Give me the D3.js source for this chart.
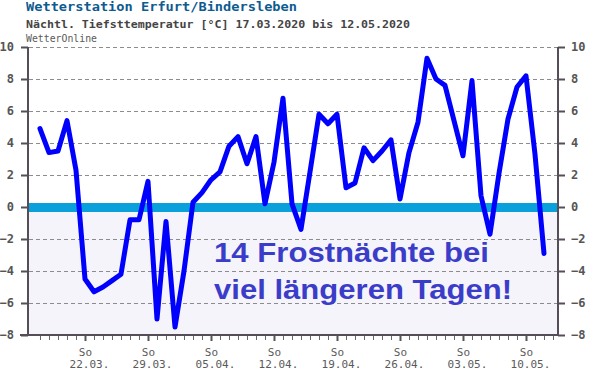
<!DOCTYPE html>
<html>
<head>
<meta charset="utf-8">
<script src="https://cdn.jsdelivr.net/npm/d3@7"></script>
<style>
  html, body { margin: 0; padding: 0; background: #fff; }
  svg { display: block; }
</style>
</head>
<body>
<svg id="chart"></svg>
<script>
// Nächtliche Tiefsttemperatur, ein Wert pro Nacht ab 17.03.2020
const startDay = "2020-03-17";
const temps = [4.9, 3.4, 3.5, 5.4, 2.3, -4.5, -5.3, -5.0, -4.6, -4.2,
  -0.8, -0.8, 1.6, -7.0, -0.9, -7.5, -4.0, 0.3, 0.9, 1.7,
  2.2, 3.8, 4.4, 2.7, 4.4, 0.2, 2.8, 6.8, 0.2, -1.4,
  2.2, 5.8, 5.2, 5.8, 1.2, 1.5, 3.7, 2.9, 3.5, 4.2,
  0.5, 3.4, 5.3, 9.3, 8.0, 7.6, 5.4, 3.2, 7.9, 0.7,
  -1.7, 2.1, 5.5, 7.5, 8.2, 3.3, -2.9];
const sundays = ["2020-03-22", "2020-03-29", "2020-04-05", "2020-04-12",
  "2020-04-19", "2020-04-26", "2020-05-03", "2020-05-10"];
const yTicks = [-8, -6, -4, -2, 0, 2, 4, 6, 8, 10];
const title = "Wetterstation Erfurt/Bindersleben";
const subtitle = "Nächtl. Tiefsttemperatur [°C] 17.03.2020 bis 12.05.2020";
const source = "WetterOnline";
const note = ["14 Frostnächte bei", "viel längeren Tagen!"];

const width = 590, height = 376;
const marginLeft = 28, marginRight = 32, marginTop = 47, marginBottom = 41;
const DAY = 864e5;

const parse = d3.utcParse("%Y-%m-%d");
const t0 = parse(startDay);
const data = temps.map((v, i) => ({ date: new Date(+t0 + i * DAY), value: v }));

const x = d3.scaleUtc()
  .domain([new Date(+t0 - 1.333 * DAY), new Date(+t0 + 57.556 * DAY)])
  .range([marginLeft, width - marginRight]);
const y = d3.scaleLinear()
  .domain([-8, 10])
  .range([height - marginBottom, marginTop]);

const svg = d3.select("#chart").attr("width", width).attr("height", height);
const mono = "'DejaVu Sans Mono', 'Liberation Mono', monospace";

// Hintergrund unter Null
svg.append("rect")
  .attr("x", marginLeft).attr("width", width - marginLeft - marginRight)
  .attr("y", y(0)).attr("height", y(-8) - y(0))
  .attr("fill", "#f5f4fb");

// Gitterlinien
svg.append("g")
  .selectAll("line")
  .data(yTicks.filter(d => d !== -8))
  .join("line")
  .attr("x1", marginLeft + 1).attr("x2", width - marginRight - 1)
  .attr("y1", d => Math.round(y(d)) + 0.5).attr("y2", d => Math.round(y(d)) + 0.5)
  .attr("stroke", "#8c8c8c").attr("stroke-width", 1)
  .attr("stroke-dasharray", "4,3");

// Null-Linie
svg.append("rect")
  .attr("x", marginLeft).attr("width", width - marginLeft - marginRight)
  .attr("y", y(0) - 4).attr("height", 9)
  .attr("fill", "#0aa0dc");

// Hinweistext
svg.append("g")
  .attr("font-family", "'Liberation Sans', Arial, sans-serif")
  .attr("font-weight", "bold")
  .attr("font-size", 27.5)
  .attr("fill", "#3b3dc9")
  .selectAll("text")
  .data(note)
  .join("text")
  .attr("x", 214)
  .attr("y", (d, i) => 262 + i * 37)
  .attr("textLength", (d, i) => i === 0 ? 275 : 298)
  .attr("lengthAdjust", "spacingAndGlyphs")
  .text(d => d);

// Achsen links / rechts
const axisColor = "#554e58";
function styleY(g) {
  g.select(".domain").remove();
  g.selectAll(".tick line").attr("stroke", axisColor).attr("stroke-width", 2);
  g.selectAll(".tick text")
    .attr("fill", "#555").attr("font-family", mono)
    .attr("font-weight", "bold").attr("font-size", 12);
}
svg.append("g")
  .attr("transform", `translate(${marginLeft},0)`)
  .call(d3.axisLeft(y).tickValues(yTicks).tickSize(7).tickPadding(7).tickFormat(d3.format("d")))
  .call(styleY);
svg.append("g")
  .attr("transform", `translate(${width - marginRight},0)`)
  .call(d3.axisRight(y).tickValues(yTicks).tickSize(7).tickPadding(6).tickFormat(d3.format("d")))
  .call(styleY);

svg.append("line")
  .attr("x1", marginLeft).attr("x2", marginLeft)
  .attr("y1", y(10)).attr("y2", y(-8) + 1)
  .attr("stroke", axisColor).attr("stroke-width", 2);
svg.append("line")
  .attr("x1", width - marginRight).attr("x2", width - marginRight)
  .attr("y1", y(10)).attr("y2", y(-8) + 1)
  .attr("stroke", axisColor).attr("stroke-width", 2);

// Zeitachse: Tagesstriche
const days = d3.range(0, 58).map(i => new Date(+t0 + i * DAY));
svg.append("g")
  .attr("transform", `translate(0,${y(-8)})`)
  .call(d3.axisBottom(x).tickValues(days).tickSize(5).tickFormat(""))
  .call(g => g.select(".domain").remove())
  .call(g => g.selectAll(".tick line").attr("stroke", "#666"));

svg.append("line")
  .attr("x1", marginLeft - 8).attr("x2", width - marginRight + 1)
  .attr("y1", y(-8)).attr("y2", y(-8))
  .attr("stroke", axisColor).attr("stroke-width", 2);

// Sonntage
const fmt = d3.utcFormat("%d.%m.");
const sunAxis = svg.append("g")
  .attr("transform", `translate(0,${y(-8)})`)
  .call(d3.axisBottom(x).tickValues(sundays.map(parse)).tickSize(6).tickFormat(""))
  .call(g => g.select(".domain").remove());
sunAxis.selectAll(".tick line").attr("stroke", "#555").attr("stroke-width", 2);
sunAxis.selectAll(".tick").append("text")
  .attr("fill", "#5a5a5a").attr("font-family", mono).attr("font-size", 11)
  .attr("text-anchor", "middle")
  .call(t => t.append("tspan").attr("x", 0).attr("y", 21).text("So"))
  .call(t => t.append("tspan").attr("x", 4).attr("y", 33).text(d => fmt(d)));

// Temperaturkurve
svg.append("path")
  .datum(data)
  .attr("fill", "none")
  .attr("stroke", "#0000ff")
  .attr("stroke-width", 5)
  .attr("stroke-linejoin", "round")
  .attr("stroke-linecap", "round")
  .attr("d", d3.line().x(d => x(d.date)).y(d => y(d.value)));

// Titel
svg.append("text")
  .attr("x", 26).attr("y", 11)
  .attr("font-family", mono).attr("font-weight", "bold").attr("font-size", 12.5)
  .attr("fill", "#0d5b8f")
  .attr("textLength", 271).attr("lengthAdjust", "spacingAndGlyphs")
  .text(title);
svg.append("text")
  .attr("x", 26).attr("y", 28)
  .attr("font-family", mono).attr("font-weight", "bold").attr("font-size", 11)
  .attr("fill", "#444")
  .attr("textLength", 384).attr("lengthAdjust", "spacingAndGlyphs")
  .text(subtitle);
svg.append("text")
  .attr("x", 26).attr("y", 41.5)
  .attr("font-family", mono).attr("font-size", 10.5)
  .attr("fill", "#5a5a5a")
  .attr("textLength", 71).attr("lengthAdjust", "spacingAndGlyphs")
  .text(source);
</script>
</body>
</html>
